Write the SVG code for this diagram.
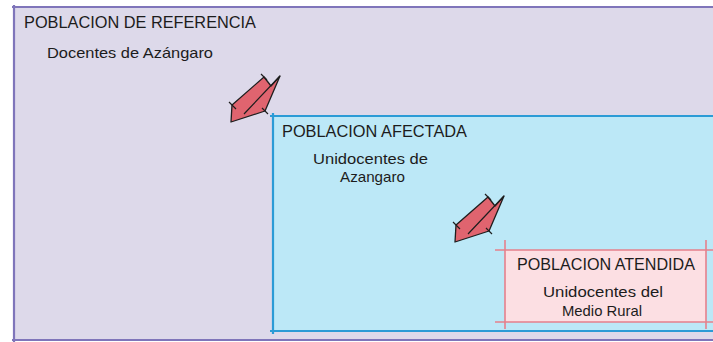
<svg xmlns="http://www.w3.org/2000/svg" width="713" height="342" viewBox="0 0 713 342">
<style>
.t{font-family:"Liberation Sans","DejaVu Sans",sans-serif;fill:#1c1c1c}
.h{font-size:16px}
.s{font-size:15px}
.ref{fill:#ddd9ea;stroke:none}
.refl{stroke:#7f75ba;stroke-width:2.2;fill:none}
.aff{fill:#bce8f7;stroke:none}
.affl{stroke:#2b9bd6;stroke-width:2.2;fill:none}
.att{fill:#fcdfe3;stroke:none}
.attl{stroke:#e5808c;stroke-width:1.6;fill:none}
.arr{fill:#e0646f;stroke:#1e1e1e;stroke-width:1.3;stroke-linejoin:round}
.tick{stroke:#1e1e1e;stroke-width:1.2;fill:none}
</style>
<rect width="713" height="342" fill="#ffffff"/>
<g id="referencia">
<rect class="ref" x="14" y="7" width="710" height="333"/>
<path class="refl" d="M12 7 H713 M14 5 V342 M12 340 H713"/>
<text class="t h" x="24" y="28" textLength="232" lengthAdjust="spacingAndGlyphs">POBLACION DE REFERENCIA</text>
<text class="t s" x="47" y="58" textLength="166" lengthAdjust="spacingAndGlyphs">Docentes de Azángaro</text>
</g>
<g id="afectada">
<rect class="aff" x="273" y="116" width="450" height="215"/>
<path class="affl" d="M270 116 H713 M273 113 V334 M270 331 H713"/>
<text class="t h" x="282" y="137" textLength="185" lengthAdjust="spacingAndGlyphs">POBLACION AFECTADA</text>
<text class="t s" x="313" y="164" textLength="115" lengthAdjust="spacingAndGlyphs">Unidocentes de</text>
<text class="t s" x="340" y="182" textLength="65" lengthAdjust="spacingAndGlyphs">Azangaro</text>
</g>
<g id="atendida">
<rect class="att" x="505" y="250" width="201" height="72"/>
<path class="attl" d="M495 250 H713 M505 240 V329 M495 322 H713 M706 240 V329"/>
<text class="t h" x="517" y="270" textLength="178" lengthAdjust="spacingAndGlyphs">POBLACION ATENDIDA</text>
<text class="t s" x="543" y="297" textLength="120" lengthAdjust="spacingAndGlyphs">Unidocentes del</text>
<text class="t s" x="562" y="316" textLength="80" lengthAdjust="spacingAndGlyphs">Medio Rural</text>
</g>
<g id="connectors">
<g id="arrow1">
<path class="arr" d="M231 122 L232 105 L264 77 L271 86 L280 76 L265 111 Z"/>
<path class="tick" d="M280 76 L244 114 M229 102 L236 109 M261 74 L267 80 M262 108 L268 114"/>
</g>
<g id="arrow2">
<path class="arr" d="M455 242 L456 225 L488 197 L495 206 L504 196 L489 231 Z"/>
<path class="tick" d="M504 196 L468 234 M453 222 L460 229 M485 194 L491 200 M486 228 L492 234"/>
</g>
</g>
</svg>
